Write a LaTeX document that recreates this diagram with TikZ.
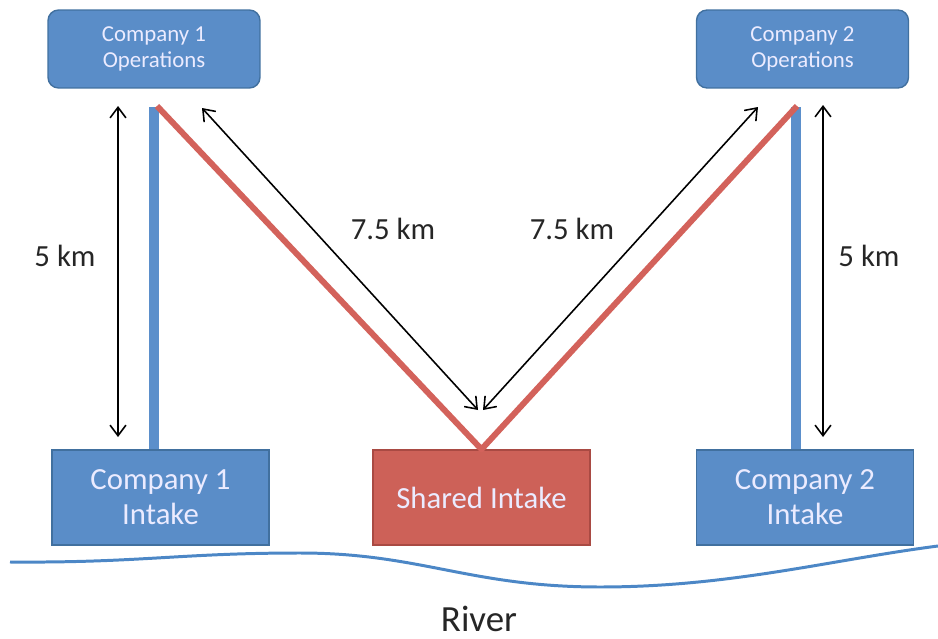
\documentclass[tikz,border=0pt]{standalone}
\usepackage{fontspec}
\setmainfont{Carlito}
\usetikzlibrary{arrows.meta,positioning,calc}
\definecolor{boxblue}{HTML}{5A8DC8}
\definecolor{boxblueedge}{HTML}{41709F}
\definecolor{boxred}{HTML}{CD6158}
\definecolor{boxrededge}{HTML}{A94A43}
\definecolor{pipeblue}{HTML}{5B8FCB}
\definecolor{pipered}{HTML}{D3625B}
\definecolor{riverblue}{HTML}{4C87C6}

\begin{document}
\begin{tikzpicture}[x=0.02cm, y=-0.02cm,
  ops/.style={draw=boxblueedge, line width=0.8pt, fill=boxblue, rounded corners=6pt,
              minimum width=4.24cm, minimum height=1.56cm, align=center, text=white!92!blue,
              font=\fontsize{13}{14.5}\selectfont},
  intake/.style={draw=boxblueedge, line width=0.8pt, fill=boxblue,
                 minimum width=4.34cm, minimum height=1.9cm, align=center, text=white!92!blue,
                 font=\fontsize{17.5}{20}\selectfont},
  pipe/.style={line width=6.2pt, pipeblue},
  sharedpipe/.style={line width=3.4pt, pipered, line join=round},
  dist/.style={{Straight Barb[length=6pt,width=9pt]}-{Straight Barb[length=6pt,width=9pt]}, line width=0.9pt},
  distlabel/.style={font=\fontsize{17.5}{20}\selectfont, text=black!85},
]
  \useasboundingbox (0,0) rectangle (938,639);

  % boxes
  \node[ops] (op1) at (154,49) {Company 1\\Operations};
  \node[ops] (op2) at (802.5,49) {Company 2\\Operations};
  \node[intake] (in1) at (160.5,497.5) {Company 1\\Intake};
  \node[intake, fill=boxred, draw=boxrededge] (shared) at (481.5,497.5) {Shared Intake};
  \node[intake] (in2) at (805,497.5) {Company 2\\Intake};

  % pipe ends below the operations
  \coordinate (p1top) at (154,107);
  \coordinate (p2top) at (796,107);
  \coordinate (r1top) at (157,106);
  \coordinate (r2top) at (797,106);

  \draw[pipe] (p1top) -- (p1top |- in1.north);
  \draw[pipe] (p2top) -- (p2top |- in2.north);
  \draw[sharedpipe] (r1top) -- (shared.north) -- (r2top);

  % distances
  \coordinate (a1top) at (118,106);
  \coordinate (a1bot) at (118,437);
  \coordinate (a2top) at (823,105);
  \coordinate (a2bot) at (823,437);
  \coordinate (d1top) at (202,108);
  \coordinate (d1bot) at (478,410);
  \coordinate (d2top) at (758,107);
  \coordinate (d2bot) at (483,410);

  \draw[dist] (a1top) -- (a1bot);
  \draw[dist] (a2top) -- (a2bot);
  \draw[dist] (d1top) -- (d1bot);
  \draw[dist] (d2top) -- (d2bot);

  \node[distlabel] (len1) at (65,256) {5 km};
  \node[distlabel] (len2) at (869,256) {5 km};
  \node[distlabel] (len3) at (393,229) {7.5 km};
  \node[distlabel] (len4) at (572,229) {7.5 km};

  % river
  \draw[riverblue, line width=1.7pt] (10,562) .. controls (140,563) and (180,553) .. (300,553)
    .. controls (420,553) and (470,587) .. (600,587)
    .. controls (730,587) and (830,560) .. (938,546);
  \node[font=\fontsize{21}{24}\selectfont, text=black!85, inner sep=0pt] (river) at (479,619) {River};
\end{tikzpicture}
\end{document}
